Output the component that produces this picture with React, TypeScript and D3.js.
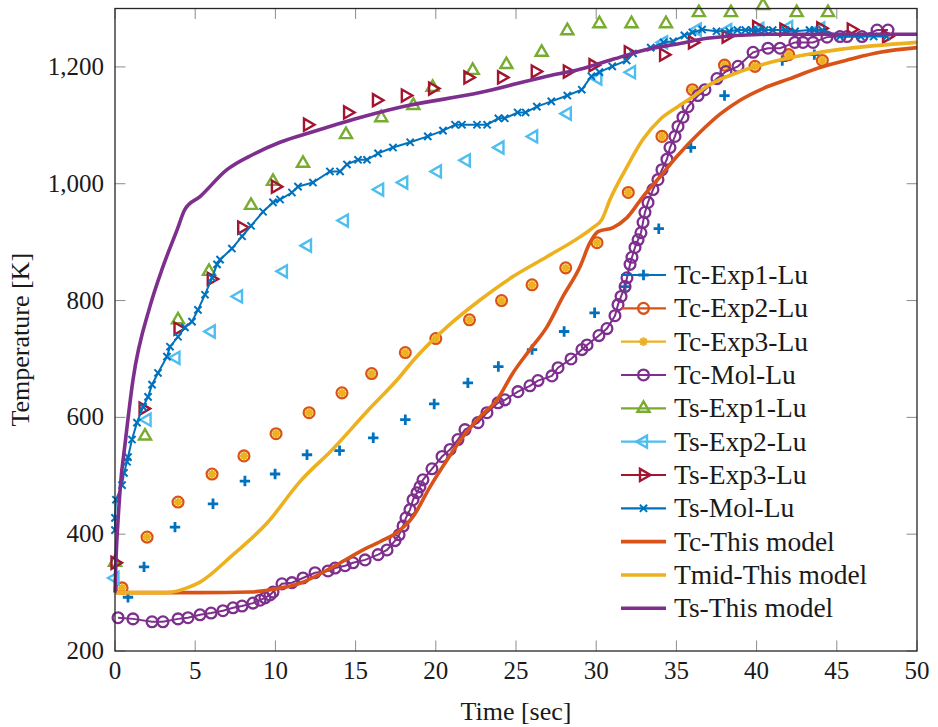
import React from 'react';
import * as d3 from 'd3';

// ---- data: [time (s), temperature (K)] ----
const tcExp1: [number, number][] = [
  [0.81, 292], [1.81, 344], [3.74, 412], [6.11, 452], [8.1, 491], [9.98, 503], [11.97, 536],
  [14.0, 543], [16.1, 565], [18.1, 596], [19.9, 623], [22.0, 659], [23.9, 687], [26.0, 716],
  [28.0, 747], [29.9, 779], [31.8, 824], [33.9, 923], [35.9, 1062], [38.0, 1151], [41.6, 1211],
  [43.6, 1221],
];

const tcExp2: [number, number][] = [
  [0.44, 308], [2.0, 395], [3.93, 455], [6.05, 503], [8.04, 534], [10.04, 572], [12.1, 608],
  [14.15, 642], [16.0, 675], [18.1, 711], [20.0, 735], [22.1, 767], [24.1, 800], [26.0, 827],
  [28.1, 856], [30.05, 899], [32.0, 985], [34.1, 1081], [36.0, 1161], [38.0, 1203], [39.9, 1201],
  [42.0, 1221], [44.1, 1211],
];

const tcExp3: [number, number][] = [
  [0.44, 308], [2.0, 395], [3.93, 455], [6.05, 503], [8.04, 534], [10.04, 572], [12.1, 608],
  [14.15, 642], [16.0, 675], [18.1, 711], [20.0, 735], [22.1, 767], [24.1, 800], [26.0, 827],
  [28.1, 856], [30.05, 899], [32.0, 985], [34.1, 1081], [36.0, 1161], [38.0, 1203], [39.9, 1201],
  [42.0, 1221], [44.1, 1211],
];

const tcMol: [number, number][] = [
  [0.19, 257], [1.12, 255], [2.31, 250], [2.99, 250], [3.93, 255], [4.55, 257], [5.3, 262],
  [5.99, 265], [6.73, 269], [7.36, 274], [7.92, 277], [8.6, 282], [9.04, 287], [9.35, 291],
  [9.66, 296], [9.85, 301], [10.41, 315], [11.03, 317], [11.72, 325], [12.47, 334], [13.28, 337],
  [13.72, 342], [14.34, 346], [14.84, 351], [15.59, 356], [16.4, 365], [16.96, 373], [17.46, 389],
  [17.71, 399], [17.96, 414], [18.14, 428], [18.39, 442], [18.58, 459], [18.83, 471], [19.01, 481],
  [19.2, 493], [19.76, 512], [20.39, 533], [20.89, 545], [21.38, 562], [21.82, 579], [22.63, 591],
  [23.19, 608], [23.88, 625], [24.31, 630], [25.12, 644], [25.87, 654], [26.37, 663], [27.24, 671],
  [27.62, 685], [28.43, 700], [29.11, 716], [29.43, 724], [30.17, 740], [30.67, 752], [31.17, 774],
  [31.36, 793], [31.55, 807], [31.8, 824], [31.92, 839], [32.11, 862], [32.23, 874], [32.42, 891],
  [32.61, 904], [32.79, 916], [32.92, 934], [33.04, 951], [33.23, 968], [33.54, 990], [33.85, 1007],
  [34.1, 1024], [34.41, 1042], [34.6, 1062], [34.91, 1081], [35.1, 1098], [35.41, 1114],
  [35.72, 1132], [36.35, 1151], [36.78, 1161], [37.53, 1180], [38.09, 1192], [38.84, 1201],
  [39.78, 1225], [40.71, 1232], [41.46, 1232], [42.39, 1242], [42.89, 1242], [43.52, 1242],
  [44.39, 1251], [45.2, 1252], [45.64, 1252], [46.57, 1252], [47.51, 1263], [48.19, 1263],
];

const tsExp1: [number, number][] = [
  [0, 352], [1.87, 568], [3.93, 767], [5.86, 850], [8.48, 963], [9.85, 1004], [11.72, 1035],
  [14.4, 1084], [16.6, 1113], [18.6, 1134], [19.8, 1165], [22.3, 1194], [24.4, 1204], [26.6, 1225],
  [28.2, 1262], [30.2, 1274], [32.2, 1274], [34.35, 1274], [36.4, 1293], [38.4, 1293], [40.4, 1305],
  [42.5, 1293], [44.45, 1293],
];

const tsExp2: [number, number][] = [
  [0, 325], [2.0, 596], [3.8, 702], [6.0, 747], [7.7, 807], [10.5, 850], [12.0, 894], [14.3, 937],
  [16.5, 990], [18.0, 1002], [20.1, 1021], [21.9, 1040], [24.0, 1062], [26.1, 1081], [28.2, 1120],
  [30.1, 1180], [32.2, 1191], [34.2, 1242], [36.3, 1264], [38.2, 1263], [40.2, 1265], [42.0, 1268],
  [44.0, 1266],
];

const tsExp3: [number, number][] = [
  [0, 351], [1.75, 615], [3.93, 752], [6.0, 837], [7.9, 925], [10.0, 995], [12.0, 1101],
  [14.5, 1122], [16.3, 1143], [18.1, 1151], [19.8, 1163], [22.0, 1182], [24.1, 1182], [26.2, 1192],
  [28.2, 1192], [29.8, 1203], [32.0, 1225], [34.2, 1221], [36.0, 1242], [38.1, 1252], [40.0, 1268],
  [41.7, 1264], [44.0, 1266], [45.9, 1264], [48.1, 1252],
];

const tsMol: [number, number][] = [
  [0, 407], [0, 428], [0.06, 459], [0.44, 484], [0.56, 505], [0.75, 524], [0.81, 532], [1.06, 562],
  [1.37, 591], [1.75, 618], [2.06, 635], [2.31, 656], [2.68, 676], [3.24, 704], [3.43, 721],
  [3.93, 738], [4.36, 754], [4.8, 764], [5.17, 784], [5.61, 810], [6.05, 839], [6.36, 862],
  [6.55, 870], [7.29, 889], [7.92, 910], [8.48, 928], [9.23, 952], [9.85, 968], [10.29, 973],
  [11.03, 985], [11.41, 995], [12.34, 1002], [13.4, 1021], [14.03, 1021], [14.46, 1033],
  [15.15, 1041], [15.71, 1041], [16.4, 1052], [17.33, 1062], [18.4, 1071], [19.5, 1081],
  [20.45, 1091], [21.2, 1101], [21.63, 1101], [22.57, 1101], [23.2, 1101], [23.9, 1112],
  [24.3, 1112], [25.1, 1122], [25.6, 1122], [26.3, 1132], [27.2, 1141], [28.2, 1151], [29.1, 1161],
  [29.7, 1184], [30.2, 1191], [31.0, 1201], [31.9, 1211], [32.3, 1223], [33.4, 1233], [34.2, 1242],
  [34.8, 1244], [35.5, 1254], [36.0, 1259], [36.6, 1264], [37.5, 1261], [38.3, 1261], [38.8, 1263],
  [39.3, 1263], [39.7, 1263], [40.1, 1263], [40.5, 1263], [41.0, 1263], [41.8, 1263], [42.4, 1261],
  [43.3, 1263], [43.6, 1263], [44.1, 1263], [45.2, 1252], [46.5, 1252], [47.3, 1252], [48.1, 1252],
];

const tcModel: [number, number][] = [
  [0, 300], [5.3, 300], [8.42, 301], [9.98, 306], [11.53, 316], [13.59, 344], [15.59, 375],
  [16.52, 387], [17.77, 407], [18.58, 430], [19.64, 481], [20.7, 527], [21.7, 567], [22.76, 601],
  [23.82, 630], [24.81, 676], [25.87, 716], [26.93, 755], [27.93, 807], [28.99, 858], [29.61, 899],
  [30.11, 918], [31.05, 925], [31.92, 942], [32.92, 978], [33.98, 1012], [35.04, 1047],
  [36.47, 1088], [37.72, 1119], [38.97, 1143], [40.4, 1163], [42.08, 1180], [43.95, 1199],
  [45.82, 1213], [47.69, 1225], [50, 1233],
];

const tmidModel: [number, number][] = [
  [0, 300], [3.24, 300], [4.49, 308], [5.3, 318], [7.36, 365], [9.48, 419], [11.53, 490],
  [13.59, 546], [15.71, 610], [17.77, 670], [18.58, 697], [20.7, 755], [22.76, 801], [24.81, 841],
  [26.93, 875], [28.99, 909], [29.8, 925], [30.36, 939], [30.86, 973], [31.92, 1029], [32.92, 1076],
  [33.98, 1110], [35.04, 1131], [36.03, 1149], [36.91, 1167], [38.97, 1192], [41.65, 1213],
  [43.52, 1223], [45.2, 1230], [50, 1242],
];

const tsModel: [number, number][] = [
  [0, 300], [0.06, 356], [0.19, 424], [0.37, 493], [0.62, 553], [1.12, 664], [2.18, 790],
  [2.99, 858], [3.87, 921], [4.36, 956], [5.3, 978], [6.98, 1024], [8.6, 1050], [10.29, 1071],
  [12.34, 1089], [14.84, 1110], [17.77, 1131], [22.76, 1156], [26.93, 1184], [28.99, 1196],
  [31.05, 1213], [33.17, 1230], [35.22, 1240], [36.91, 1249], [41.02, 1256], [45.2, 1256],
  [50, 1256],
];

const timeTicks = [0, 5, 10, 15, 20, 25, 30, 35, 40, 45, 50];
const tempTicks = [200, 400, 600, 800, 1000, 1200];

const COLORS = {
  blue: '#0072BD',
  orange: '#D95319',
  yellow: '#EDB120',
  purple: '#7E2F8E',
  green: '#77AC30',
  cyan: '#4DBEEE',
  red: '#A2142F',
};

type MarkerKind = 'plus' | 'circle' | 'asterisk' | 'triUp' | 'triLeft' | 'triRight' | 'cross' | 'none';

interface Series {
  name: string;
  data: [number, number][];
  color: string;
  marker: MarkerKind;
  line: 'none' | 'thin' | 'model';
}

const SERIES: Series[] = [
  { name: 'Tc-Exp1-Lu', data: tcExp1, color: COLORS.blue, marker: 'plus', line: 'none' },
  { name: 'Tc-Exp2-Lu', data: tcExp2, color: COLORS.orange, marker: 'circle', line: 'none' },
  { name: 'Tc-Exp3-Lu', data: tcExp3, color: COLORS.yellow, marker: 'asterisk', line: 'none' },
  { name: 'Tc-Mol-Lu', data: tcMol, color: COLORS.purple, marker: 'circle', line: 'thin' },
  { name: 'Ts-Exp1-Lu', data: tsExp1, color: COLORS.green, marker: 'triUp', line: 'none' },
  { name: 'Ts-Exp2-Lu', data: tsExp2, color: COLORS.cyan, marker: 'triLeft', line: 'none' },
  { name: 'Ts-Exp3-Lu', data: tsExp3, color: COLORS.red, marker: 'triRight', line: 'none' },
  { name: 'Ts-Mol-Lu', data: tsMol, color: COLORS.blue, marker: 'cross', line: 'thin' },
  { name: 'Tc-This model', data: tcModel, color: COLORS.orange, marker: 'none', line: 'model' },
  { name: 'Tmid-This model', data: tmidModel, color: COLORS.yellow, marker: 'none', line: 'model' },
  { name: 'Ts-This model', data: tsModel, color: COLORS.purple, marker: 'none', line: 'model' },
];

const W = 938;
const H = 727;
const X0 = 115;
const X1 = 917;
const Y0 = 651;
const Y1 = 8.5;
const FONT = '"Liberation Serif", "Times New Roman", serif';

const x = d3.scaleLinear().domain([0, 50]).range([X0, X1]);
const y = d3.scaleLinear().domain([200, 1300]).range([Y0, Y1]);
const fmt = d3.format(',');

function triangle(cx: number, cy: number, r: number, angle: number): string {
  const pts = [0, 1, 2].map((k) => {
    const a = angle + (k * 2 * Math.PI) / 3;
    return [cx + r * Math.cos(a), cy + r * Math.sin(a)];
  });
  return `M${pts[0][0]},${pts[0][1]}L${pts[1][0]},${pts[1][1]}L${pts[2][0]},${pts[2][1]}Z`;
}

function Marker({ kind, cx, cy, color }: { kind: MarkerKind; cx: number; cy: number; color: string }) {
  switch (kind) {
    case 'plus': {
      const s = 5.2;
      return <path d={`M${cx - s},${cy}H${cx + s}M${cx},${cy - s}V${cy + s}`} stroke={color} strokeWidth={2.8} fill="none" />;
    }
    case 'circle':
      return <circle cx={cx} cy={cy} r={5.4} stroke={color} strokeWidth={2.3} fill="none" />;
    case 'asterisk': {
      const s = 4.4;
      const d = 3.1;
      return (
        <path
          d={`M${cx - s},${cy}H${cx + s}M${cx},${cy - s}V${cy + s}M${cx - d},${cy - d}L${cx + d},${cy + d}M${cx - d},${cy + d}L${cx + d},${cy - d}`}
          stroke={color}
          strokeWidth={2.2}
          fill="none"
        />
      );
    }
    case 'triUp':
      return <path d={triangle(cx, cy, 7, -Math.PI / 2)} stroke={color} strokeWidth={2.4} fill="none" strokeLinejoin="miter" />;
    case 'triLeft':
      return <path d={triangle(cx, cy, 7, Math.PI)} stroke={color} strokeWidth={2.4} fill="none" strokeLinejoin="miter" />;
    case 'triRight':
      return <path d={triangle(cx, cy, 7, 0)} stroke={color} strokeWidth={2.4} fill="none" strokeLinejoin="miter" />;
    case 'cross': {
      const s = 3.6;
      return (
        <path
          d={`M${cx - s},${cy - s}L${cx + s},${cy + s}M${cx - s},${cy + s}L${cx + s},${cy - s}`}
          stroke={color}
          strokeWidth={2}
          fill="none"
        />
      );
    }
    default:
      return null;
  }
}

const linearLine = d3
  .line<[number, number]>()
  .x((d) => x(d[0]))
  .y((d) => y(d[1]));

const smoothLine = d3
  .line<[number, number]>()
  .x((d) => x(d[0]))
  .y((d) => y(d[1]))
  .curve(d3.curveMonotoneX);

export default function App() {
  const legendX0 = 621;
  const legendX1 = 666;
  const legendY0 = 275;
  const legendDy = 33.33;

  return (
    <svg width={W} height={H} style={{ position: 'absolute', left: 0, top: 0, background: '#fff' }} fontFamily={FONT}>
      <rect x={0} y={0} width={W} height={H} fill="#fff" />

      {/* tick marks, inward on all four sides */}
      <g stroke="#8c8c8c" strokeWidth={1}>
        {timeTicks.map((t) => (
          <g key={`xt${t}`}>
            <line x1={x(t)} x2={x(t)} y1={Y0} y2={Y0 - 10.5} />
            <line x1={x(t)} x2={x(t)} y1={Y1} y2={Y1 + 10.5} />
          </g>
        ))}
        {tempTicks.map((v) => (
          <g key={`yt${v}`}>
            <line x1={X0} x2={X0 + 10.5} y1={y(v)} y2={y(v)} />
            <line x1={X1} x2={X1 - 10.5} y1={y(v)} y2={y(v)} />
          </g>
        ))}
      </g>

      {/* series */}
      {SERIES.map((s) => (
        <g key={s.name}>
          {s.line === 'thin' && (
            <path d={linearLine(s.data) || ''} stroke={s.color} strokeWidth={2} fill="none" />
          )}
          {s.line === 'model' && (
            <path d={smoothLine(s.data) || ''} stroke={s.color} strokeWidth={3.6} fill="none" strokeLinejoin="round" />
          )}
          {s.marker !== 'none' &&
            s.data.map((d, i) => <Marker key={i} kind={s.marker} cx={x(d[0])} cy={y(d[1])} color={s.color} />)}
        </g>
      ))}

      {/* axis box */}
      <rect x={X0} y={Y1} width={X1 - X0} height={Y0 - Y1} fill="none" stroke="#262626" strokeWidth={1.3} />

      {/* tick labels */}
      <g fontSize={25} fill="#1a1a1a">
        {timeTicks.map((t) => (
          <text key={`xl${t}`} x={x(t)} y={679} textAnchor="middle">
            {t}
          </text>
        ))}
        {tempTicks.map((v) => (
          <text key={`yl${v}`} x={104} y={y(v) + 8} textAnchor="end">
            {fmt(v)}
          </text>
        ))}
      </g>

      {/* axis titles */}
      <text x={(X0 + X1) / 2} y={720} textAnchor="middle" fontSize={26} fill="#1a1a1a">
        Time [sec]
      </text>
      <text
        transform={`translate(29,${(Y0 + Y1) / 2 + 10}) rotate(-90)`}
        textAnchor="middle"
        fontSize={26}
        fill="#1a1a1a"
      >
        Temperature [K]
      </text>

      {/* legend */}
      <g>
        {SERIES.map((s, i) => {
          const ly = legendY0 + i * legendDy;
          return (
            <g key={`lg${s.name}`}>
              <line
                x1={legendX0}
                x2={legendX1}
                y1={ly}
                y2={ly}
                stroke={s.color}
                strokeWidth={s.line === 'model' ? 3.6 : 2.2}
              />
              <Marker kind={s.marker} cx={(legendX0 + legendX1) / 2} cy={ly} color={s.color} />
              <text x={674} y={ly + 9} fontSize={27.5} fill="#1a1a1a">
                {s.name}
              </text>
            </g>
          );
        })}
      </g>
    </svg>
  );
}
